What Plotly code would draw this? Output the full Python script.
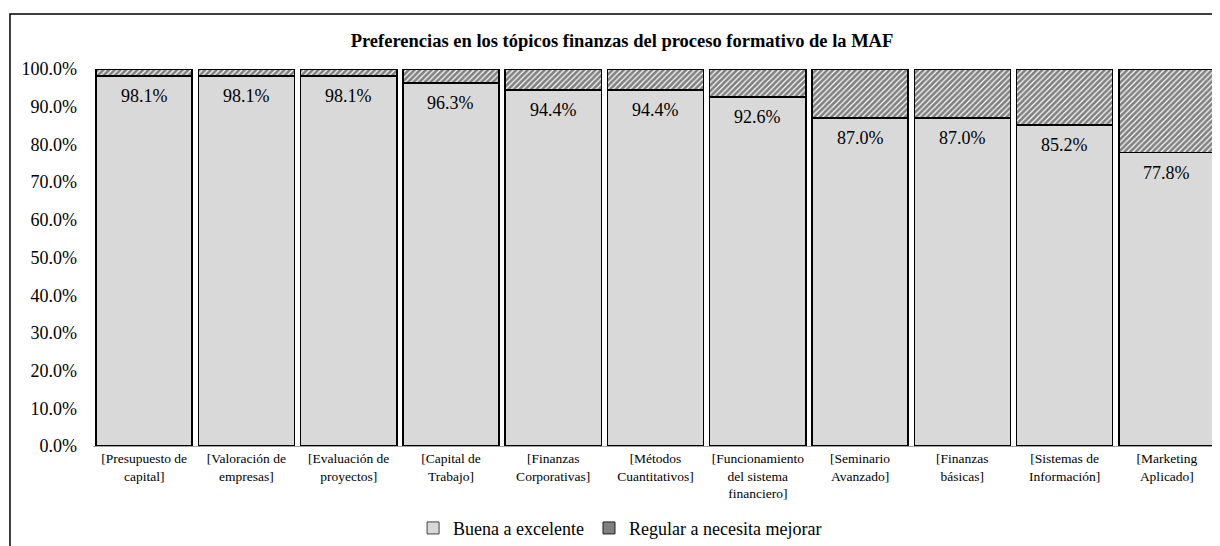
import plotly.graph_objects as go

categories = [
    "[Presupuesto de<br>capital]",
    "[Valoración de<br>empresas]",
    "[Evaluación de<br>proyectos]",
    "[Capital de<br>Trabajo]",
    "[Finanzas<br>Corporativas]",
    "[Métodos<br>Cuantitativos]",
    "[Funcionamiento<br>del sistema<br>financiero]",
    "[Seminario<br>Avanzado]",
    "[Finanzas<br>básicas]",
    "[Sistemas de<br>Información]",
    "[Marketing<br>Aplicado]",
]
buena = [0.981, 0.981, 0.981, 0.963, 0.944, 0.944, 0.926, 0.870, 0.870, 0.852, 0.778]
regular = [0.019, 0.019, 0.019, 0.037, 0.056, 0.056, 0.074, 0.130, 0.130, 0.148, 0.222]
y_ticks = [0, 0.1, 0.2, 0.3, 0.4, 0.5, 0.6, 0.7, 0.8, 0.9, 1.0]

FONT = "Liberation Serif"

fig = go.Figure()
fig.add_trace(go.Bar(
    x=categories, y=buena, name="Buena a excelente", showlegend=False,
    marker=dict(color="#d9d9d9", line=dict(color="black", width=1.5)),
))
fig.add_trace(go.Bar(
    x=categories, y=regular, name="Regular a necesita mejorar", showlegend=False,
    marker=dict(color="white", line=dict(color="black", width=1.5),
                pattern=dict(shape="/", fgcolor="black", bgcolor="white", size=4, solidity=0.7)),
))
# legend swatches
fig.add_trace(go.Bar(x=[None], y=[None], name="Buena a excelente",
                     marker=dict(color="#d9d9d9", line=dict(color="#404040", width=1))))
fig.add_trace(go.Bar(x=[None], y=[None], name="Regular a necesita mejorar",
                     marker=dict(color="#808080", line=dict(color="#202020", width=1))))

for c, v in zip(categories, buena):
    fig.add_annotation(x=c, y=v, text=f"{v*100:.1f}%", showarrow=False,
                       yanchor="top", yshift=-8,
                       font=dict(family=FONT, size=18, color="black"))

# outer frame
fig.add_shape(type="rect", xref="paper", yref="paper",
              x0=-0.0738, x1=1.05, y0=-0.35, y1=1.146,
              line=dict(color="black", width=1.5), fillcolor="rgba(0,0,0,0)", layer="below")

fig.update_layout(
    width=1212, height=538,
    barmode="stack", bargap=0.06,
    plot_bgcolor="white", paper_bgcolor="white",
    margin=dict(l=85, r=2, t=61, b=100),
    font=dict(family=FONT, color="black"),
    title=dict(text="<b>Preferencias en los tópicos finanzas del proceso formativo de la MAF</b>",
               x=0.5066, xref="container", xanchor="center", y=0.94, yref="container", yanchor="middle",
               font=dict(family=FONT, size=18.5, color="black")),
    legend=dict(orientation="h", x=0.505, xref="container", xanchor="center",
                y=0.033, yref="container", yanchor="middle",
                font=dict(family=FONT, size=18, color="black"),
                itemwidth=30, traceorder="normal"),
    xaxis=dict(showline=True, linecolor="#a0a0a0", linewidth=1, ticks="",
               tickfont=dict(family=FONT, size=13.5, color="black"), tickangle=0),
    yaxis=dict(range=[0, 1], tickvals=y_ticks, tickformat=".1%", showgrid=False,
               zeroline=False, showline=False, ticks="", ticklabelstandoff=15,
               tickfont=dict(family=FONT, size=18, color="black")),
)

fig.write_html("out.html")
